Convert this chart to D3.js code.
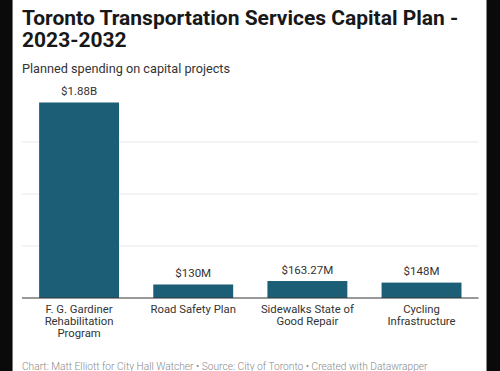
<!DOCTYPE html>
<html>
<head>
<meta charset="utf-8">
<script src="https://cdn.jsdelivr.net/npm/d3@7"></script>
<style>
  html, body { margin: 0; padding: 0; background: #0a0a0a; }
  #chart { width: 500px; height: 371px; overflow: hidden; }
  text { font-family: Roboto, "Noto Sans", sans-serif; }
</style>
</head>
<body>
<div id="chart"></div>
<script>
// Chart data
const categories = [
    ["F. G. Gardiner", "Rehabilitation", "Program"],
    ["Road Safety Plan"],
    ["Sidewalks State of", "Good Repair"],
    ["Cycling", "Infrastructure"]
];
const values = [1880, 130, 163.27, 148]; // millions
const valueLabels = ["$1.88B", "$130M", "$163.27M", "$148M"];
const gridTicks = [0, 500, 1000, 1500];

const W = 500, H = 371;
const plot = {left: 22, right: 478.6, top: 102.5, bottom: 298};

const svg = d3.select("#chart")
    .append("svg")
    .attr("width", W)
    .attr("height", H);

// White panel between the black edges
svg.append("rect")
    .attr("x", 12).attr("y", 0)
    .attr("width", 475).attr("height", H)
    .attr("fill", "#fff");
svg.append("rect")
    .attr("x", 12).attr("y", 0)
    .attr("width", 1).attr("height", H)
    .attr("fill", "#777");
svg.append("rect")
    .attr("x", 486).attr("y", 0)
    .attr("width", 1).attr("height", H)
    .attr("fill", "#888");

// Title
svg.append("text")
    .attr("x", 22).attr("y", 25)
    .attr("font-size", 21).attr("font-weight", 700)
    .attr("fill", "#181818")
    .text("Toronto Transportation Services Capital Plan -");
svg.append("text")
    .attr("x", 22).attr("y", 47)
    .attr("font-size", 21).attr("font-weight", 700)
    .attr("fill", "#181818")
    .text("2023-2032");

// Subtitle
svg.append("text")
    .attr("x", 22).attr("y", 73)
    .attr("font-size", 12.7)
    .attr("fill", "#333")
    .text("Planned spending on capital projects");

// Scales
const x = d3.scaleBand()
    .domain(d3.range(categories.length))
    .range([plot.left, plot.right])
    .paddingInner(0.3)
    .paddingOuter(0.15);

const y = d3.scaleLinear()
    .domain([0, 1880])
    .range([plot.bottom, plot.top]);

// Grid lines
svg.append("g")
    .selectAll("line")
    .data(gridTicks.slice(1))
    .enter()
    .append("line")
    .attr("x1", plot.left).attr("x2", plot.right)
    .attr("y1", d => y(d)).attr("y2", d => y(d))
    .attr("stroke", "#e8e8e8")
    .attr("stroke-width", 1);

// Bars
svg.selectAll(".bar")
    .data(values)
    .enter()
    .append("rect")
    .attr("class", "bar")
    .attr("x", (d, i) => x(i))
    .attr("y", d => y(d))
    .attr("width", x.bandwidth())
    .attr("height", d => y(0) - y(d))
    .attr("fill", "#1b5e76");

// Baseline
svg.append("line")
    .attr("x1", plot.left).attr("x2", plot.right)
    .attr("y1", y(0)).attr("y2", y(0))
    .attr("stroke", "#333")
    .attr("stroke-width", 1);

// Value labels
svg.selectAll(".val")
    .data(values)
    .enter()
    .append("text")
    .attr("class", "val")
    .attr("x", (d, i) => x(i) + x.bandwidth() / 2)
    .attr("y", d => y(d) - 7.5)
    .attr("text-anchor", "middle")
    .attr("font-size", 11.5)
    .attr("fill", "#333")
    .text((d, i) => valueLabels[i]);

// Category labels
const cats = svg.selectAll(".cat")
    .data(categories)
    .enter()
    .append("text")
    .attr("class", "cat")
    .attr("text-anchor", "middle")
    .attr("font-size", 11.3)
    .attr("fill", "#333");
cats.selectAll("tspan")
    .data((d, i) => d.map(s => ({s, i})))
    .enter()
    .append("tspan")
    .attr("x", d => x(d.i) + x.bandwidth() / 2)
    .attr("y", (d, j) => 313 + j * 12)
    .text(d => d.s);

// Footer
svg.append("text")
    .attr("x", 22).attr("y", 369.5)
    .attr("font-size", 10.2)
    .attr("font-weight", 300)
    .attr("fill", "#8a8a8a")
    .text("Chart: Matt Elliott for City Hall Watcher \u2022 Source: City of Toronto \u2022 Created with Datawrapper");
</script>
</body>
</html>
